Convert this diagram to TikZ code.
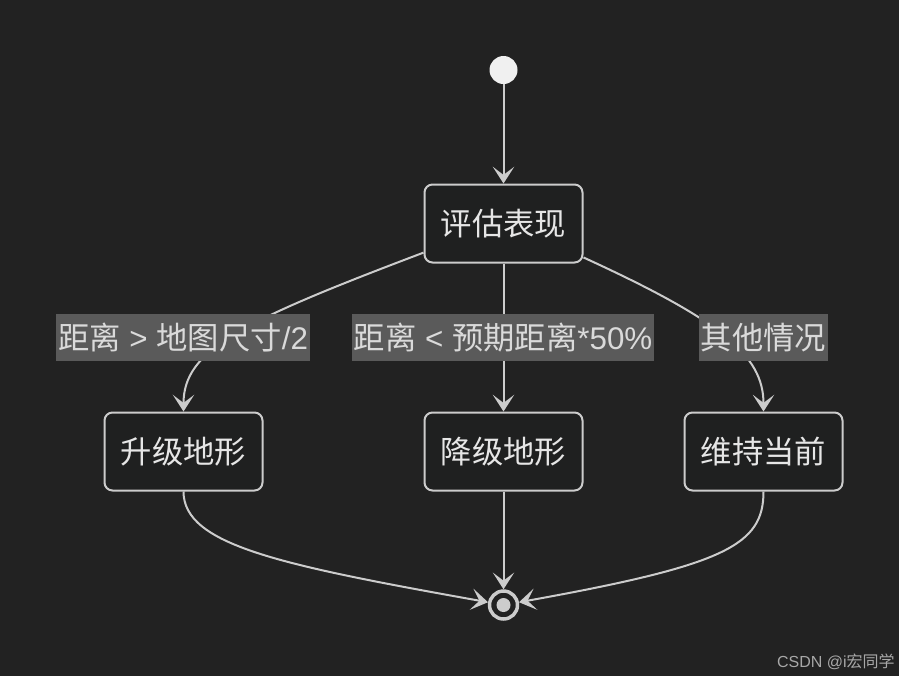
\documentclass[tikz,border=0pt]{standalone}
\usepackage{fontspec}
\setmainfont{Liberation Sans}
\newfontfamily\cjk{Noto Sans CJK SC}
\usetikzlibrary{arrows.meta}
\definecolor{bgdark}{HTML}{222222}
\definecolor{boxfill}{HTML}{1F2020}
\definecolor{edgegrey}{HTML}{CCCCCC}
\definecolor{lblgrey}{HTML}{5A5A5A}
\definecolor{lbltext}{HTML}{DADADA}
\definecolor{boxtext}{HTML}{E6E6E6}
\definecolor{markgrey}{HTML}{A8A8A8}
\tikzset{
  state/.style={draw=edgegrey, fill=boxfill, line width=1.5pt, rounded corners=6pt, minimum width=118.5pt, minimum height=58.5pt, inner sep=0pt, text=boxtext, font=\fontsize{23.5}{28}\selectfont\cjk},
  cond/.style={fill=lblgrey, text=lbltext, inner xsep=1.5pt, inner ysep=0pt, minimum height=35pt, font=\fontsize{23.5}{28}\selectfont},
  flow/.style={draw=edgegrey, line width=1.5pt, -{Stealth[length=12.5pt, width=16pt, inset=6pt]}},
}
\begin{document}
\begin{tikzpicture}[x=0.75pt, y=-0.75pt]
\fill[bgdark] (0,0) rectangle (899,676);
% states
\node[circle, fill=white!94!black, minimum size=21pt, inner sep=0pt] (start) at (503.5,70) {};
\node[state] (eval) at (503.5,223.5) {评估表现};
\node[state] (up) at (183.5,451.5) {升级地形};
\node[state] (down) at (503.5,451.5) {降级地形};
\node[state] (keep) at (763.5,451.5) {维持当前};
\node[circle, draw=edgegrey, line width=2.6pt, fill=bgdark, minimum size=21pt, inner sep=0pt] (fin) at (503.5,605) {};
\fill[edgegrey] (fin.center) circle (5.25pt);
% transitions
\draw[flow] (start) -- (eval);
\draw[flow] (eval.200) .. controls (240,322) and (183.5,350) .. (up.north);
\draw[flow] (eval) -- (down);
\draw[flow] (eval.-23) .. controls (720,320) and (763.5,355) .. (keep.north);
\draw[flow] (up.south) .. controls (183.5,545) and (280,565) .. (fin);
\draw[flow] (down) -- (fin);
\draw[flow] (keep.south) .. controls (763.5,545) and (726,565) .. (fin);
% guards
\node[cond] (toUp) at (183,337.5) {{\cjk 距离} > {\cjk 地图尺寸}/2};
\node[cond] (toDown) at (503,337.5) {{\cjk 距离} < {\cjk 预期距离}*50\%};
\node[cond] (toKeep) at (763.5,337.5) {\cjk 其他情况};
\node[anchor=base east, inner sep=0pt, text=markgrey, font=\fontsize{12}{14}\selectfont] (mark) at (895,667) {CSDN @i{\cjk 宏同学}};
\end{tikzpicture}
\end{document}
